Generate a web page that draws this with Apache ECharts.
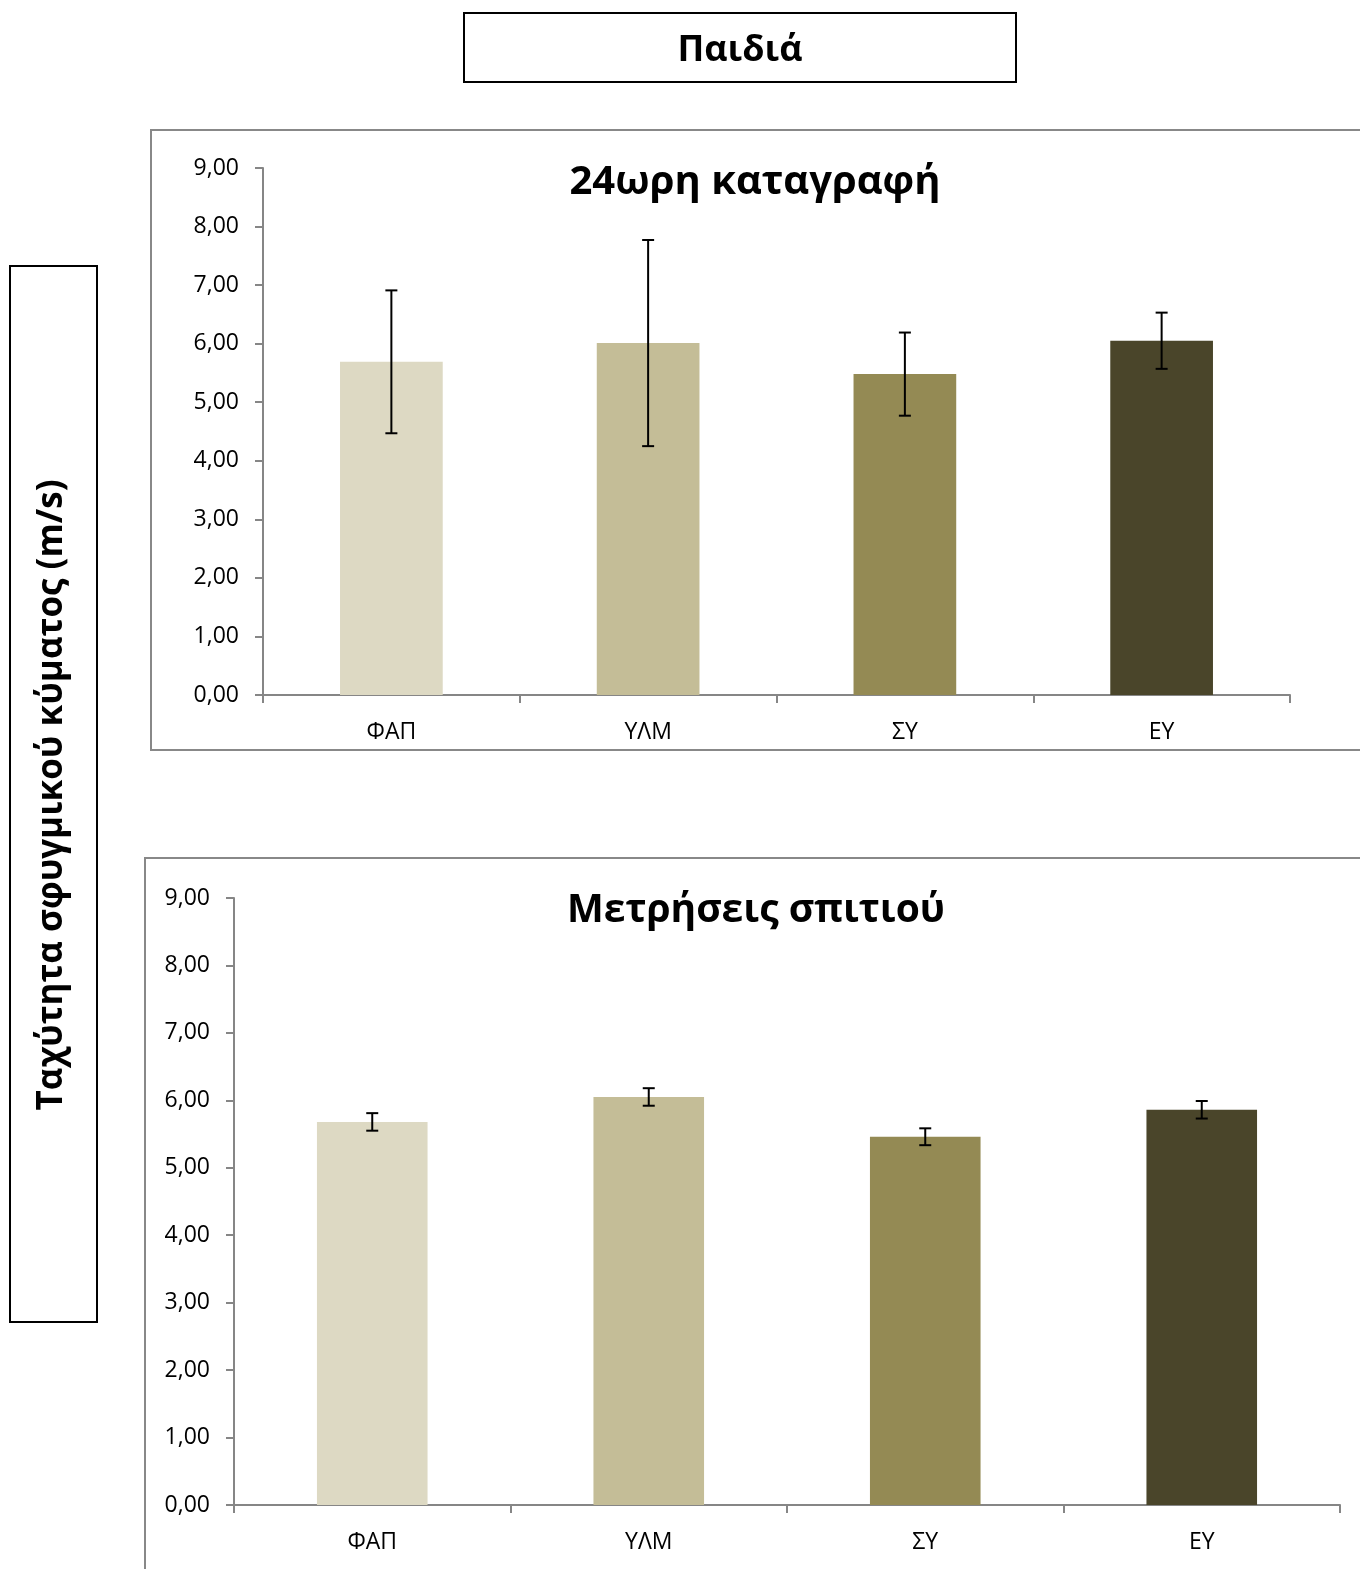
<!DOCTYPE html>
<html>
<head>
<meta charset="utf-8">
<script src="https://cdn.jsdelivr.net/npm/echarts@6/dist/echarts.min.js"></script>
<style>
  html, body { margin: 0; padding: 0; background: #fff; }
  #chart { width: 1360px; height: 1569px; }
</style>
</head>
<body>
<div id="chart"></div>
<script>
// Groups shown on the x axis
const categories = ['ΦΑΠ', 'ΥΛΜ', 'ΣΥ', 'ΕΥ'];
const barColors = ['#DDD9C3', '#C4BD97', '#948A54', '#4A452A'];

// 24-hour ambulatory recording: mean and SD of pulse wave velocity (m/s)
const ambulatoryMean = [5.69, 6.01, 5.48, 6.05];
const ambulatorySD = [1.22, 1.76, 0.71, 0.48];

// Home measurements: mean and SD of pulse wave velocity (m/s)
const homeMean = [5.68, 6.05, 5.46, 5.86];
const homeSD = [0.13, 0.13, 0.125, 0.13];

// y axis ticks
const yMin = 0, yMax = 9, yStep = 1;

const FONT = '"Open Sans", "Noto Sans", sans-serif';
const AXIS_GRAY = '#868686';

function barData(means) {
  return means.map((v, i) => ({ value: v, itemStyle: { color: barColors[i] } }));
}
function errData(means, sds) {
  return means.map((m, i) => [i, m - sds[i], m + sds[i]]);
}

function errorBarRender(params, api) {
  const x = api.value(0);
  const lo = api.coord([x, api.value(1)]);
  const hi = api.coord([x, api.value(2)]);
  const half = 6;
  const style = { stroke: '#000', lineWidth: 2 };
  return {
    type: 'group',
    children: [
      { type: 'line', shape: { x1: hi[0], y1: hi[1], x2: lo[0], y2: lo[1] }, style },
      { type: 'line', shape: { x1: hi[0] - half, y1: hi[1], x2: hi[0] + half, y2: hi[1] }, style },
      { type: 'line', shape: { x1: lo[0] - half, y1: lo[1], x2: lo[0] + half, y2: lo[1] }, style }
    ]
  };
}

function xAxisCfg(gridIndex) {
  return {
    type: 'category', gridIndex, data: categories,
    axisLine: { show: true, lineStyle: { color: AXIS_GRAY, width: 2 } },
    axisTick: { show: true, length: 8, lineStyle: { color: AXIS_GRAY, width: 2 } },
    axisLabel: { color: '#000', fontFamily: FONT, fontSize: 23, margin: 26 },
    splitLine: { show: false }
  };
}
function yAxisCfg(gridIndex) {
  return {
    type: 'value', gridIndex, min: yMin, max: yMax, interval: yStep,
    axisLine: { show: true, lineStyle: { color: AXIS_GRAY, width: 2 } },
    axisTick: { show: true, length: 8, lineStyle: { color: AXIS_GRAY, width: 2 } },
    axisLabel: {
      color: '#000', fontFamily: FONT, fontSize: 23, margin: 24,
      formatter: v => v.toFixed(2).replace('.', ',')
    },
    splitLine: { show: false }
  };
}

const chart = echarts.init(document.getElementById('chart'), null, { renderer: 'canvas' });

chart.setOption({
  backgroundColor: '#fff',
  animation: false,
  grid: [
    { left: 263, top: 168, width: 1027, height: 527 },
    { left: 234, top: 898, width: 1106, height: 607 }
  ],
  xAxis: [xAxisCfg(0), xAxisCfg(1)],
  yAxis: [yAxisCfg(0), yAxisCfg(1)],
  series: [
    { type: 'bar', xAxisIndex: 0, yAxisIndex: 0, barWidth: '40%', data: barData(ambulatoryMean) },
    { type: 'custom', xAxisIndex: 0, yAxisIndex: 0, renderItem: errorBarRender,
      encode: { x: 0, y: [1, 2] }, data: errData(ambulatoryMean, ambulatorySD), z: 5 },
    { type: 'bar', xAxisIndex: 1, yAxisIndex: 1, barWidth: '40%', data: barData(homeMean) },
    { type: 'custom', xAxisIndex: 1, yAxisIndex: 1, renderItem: errorBarRender,
      encode: { x: 0, y: [1, 2] }, data: errData(homeMean, homeSD), z: 5 }
  ],
  graphic: [
    // panel frames
    { type: 'rect', shape: { x: 151, y: 130, width: 1260, height: 620 },
      style: { fill: 'none', stroke: '#888', lineWidth: 2 }, z: -1 },
    { type: 'rect', shape: { x: 145, y: 858, width: 1270, height: 800 },
      style: { fill: 'none', stroke: '#888', lineWidth: 2 }, z: -1 },
    // main heading box
    { type: 'rect', shape: { x: 464, y: 13, width: 552, height: 69 },
      style: { fill: '#fff', stroke: '#000', lineWidth: 2 } },
    { type: 'text', x: 740, y: 51,
      style: { text: 'Παιδιά', font: 'bold 36px ' + FONT, fill: '#000',
        align: 'center', verticalAlign: 'middle' } },
    // y axis title box
    { type: 'rect', shape: { x: 10, y: 266, width: 87, height: 1056 },
      style: { fill: '#fff', stroke: '#000', lineWidth: 2 } },
    { type: 'text', x: 52, y: 795, rotation: Math.PI / 2,
      style: { text: 'Ταχύτητα σφυγμικού κύματος (m/s)', font: 'bold 35px ' + FONT, fill: '#000',
        align: 'center', verticalAlign: 'middle' } },
    // panel titles
    { type: 'text', x: 755, y: 183,
      style: { text: '24ωρη καταγραφή', font: 'bold 40px ' + FONT, fill: '#000',
        align: 'center', verticalAlign: 'middle' } },
    { type: 'text', x: 756, y: 911,
      style: { text: 'Μετρήσεις σπιτιού', font: 'bold 39px ' + FONT, fill: '#000',
        align: 'center', verticalAlign: 'middle' } }
  ]
});
</script>
</body>
</html>
